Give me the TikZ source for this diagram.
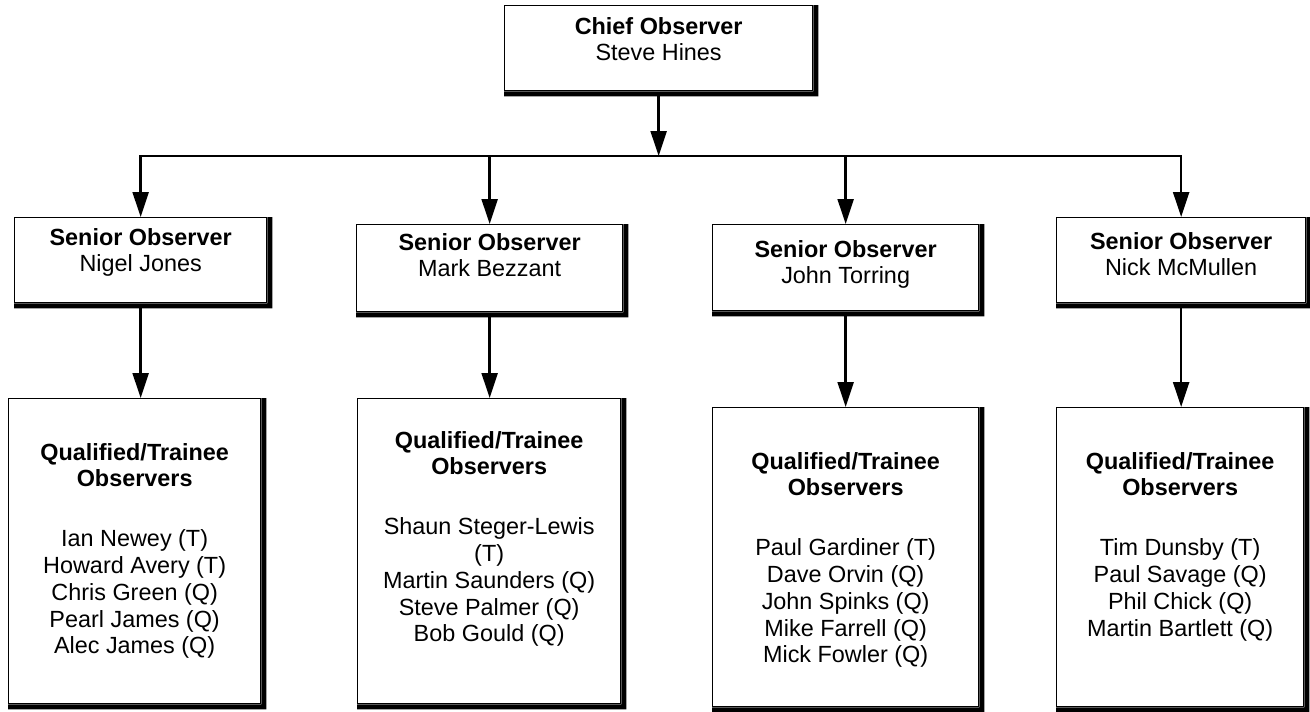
\documentclass[tikz,border=0pt]{standalone}
\usepackage{fontspec}
\setmainfont{Liberation Sans}
\usetikzlibrary{arrows.meta}
\begin{document}
\begin{tikzpicture}[x=1pt,y=-1pt,
  obox/.style={draw, line width=1.3pt, inner sep=0pt, anchor=north west, fill=white},
  txt/.style={inner sep=0pt, anchor=north, align=center, font=\fontsize{23.4}{26.8}\selectfont},
  tip/.style={Triangle[length=25pt,width=16pt]},
  arr/.style={line width=2.4pt, -{Triangle[length=25pt,width=16pt]}},
  conn/.style={line width=2.4pt, line join=miter}]
\useasboundingbox (0,0) rectangle (1310,712);
\newcommand{\shadowof}[1]{\fill (#1.north east) -- ++(5,0) -- ([xshift=5pt,yshift=-5pt]#1.south east) -- ([yshift=-5pt]#1.south west) -- (#1.south west) -- (#1.south east) -- cycle;}

% boxes
\node[obox, minimum width=308pt, minimum height=85pt] (top) at (504,5) {};
\node[obox, minimum width=252pt, minimum height=85pt] (s1) at (14,217) {};
\node[obox, minimum width=266pt, minimum height=87pt] (s2) at (356,224) {};
\node[obox, minimum width=266pt, minimum height=86pt] (s3) at (712,224) {};
\node[obox, minimum width=249pt, minimum height=85pt] (s4) at (1056,217) {};
\node[obox, minimum width=252pt, minimum height=305pt] (q1) at (8,398) {};
\node[obox, minimum width=263pt, minimum height=305pt] (q2) at (357,398) {};
\node[obox, minimum width=266pt, minimum height=299pt] (q3) at (712,407) {};
\node[obox, minimum width=247pt, minimum height=299pt] (q4) at (1056,407) {};
\foreach \b in {top,s1,s2,s3,s4,q1,q2,q3,q4} {\shadowof{\b}}

% texts
\node[txt] (ttop) at ([yshift=-12pt]top.north) {\textbf{Chief Observer}\\Steve Hines};
\node[txt] (ts1) at ([yshift=-11pt]s1.north) {\textbf{Senior Observer}\\Nigel Jones};
\node[txt] (ts2) at ([yshift=-9pt]s2.north) {\textbf{Senior Observer}\\Mark Bezzant};
\node[txt] (ts3) at ([yshift=-16pt]s3.north) {\textbf{Senior Observer}\\John Torring};
\node[txt] (ts4) at ([yshift=-15pt]s4.north) {\textbf{Senior Observer}\\Nick McMullen};
\node[txt] (tq1) at ([yshift=-45pt]q1.north) {\textbf{Qualified/Trainee}\\\textbf{Observers}\\[33pt]Ian Newey (T)\\Howard Avery (T)\\Chris Green (Q)\\Pearl James (Q)\\Alec James (Q)};
\node[txt] (tq2) at ([yshift=-33pt]q2.north) {\textbf{Qualified/Trainee}\\\textbf{Observers}\\[33pt]Shaun Steger-Lewis\\(T)\\Martin Saunders (Q)\\Steve Palmer (Q)\\Bob Gould (Q)};
\node[txt] (tq3) at ([yshift=-45pt]q3.north) {\textbf{Qualified/Trainee}\\\textbf{Observers}\\[33pt]Paul Gardiner (T)\\Dave Orvin (Q)\\John Spinks (Q)\\Mike Farrell (Q)\\Mick Fowler (Q)};
\node[txt] (tq4) at ([yshift=-45pt]q4.north) {\textbf{Qualified/Trainee}\\\textbf{Observers}\\[33pt]Tim Dunsby (T)\\Paul Savage (Q)\\Phil Chick (Q)\\Martin Bartlett (Q)};

% connectors
\coordinate (hl) at (0,156);
\draw[arr] ([yshift=-5pt]top.south) -- (top.south |- hl);
\draw[conn, {Triangle[length=25pt,width=16pt]}-{Triangle[length=25pt,width=16pt]}] (s1.north) -- (s1.north |- hl) -- (s4.north |- hl) -- (s4.north);
\draw[arr] (s2.north |- hl) -- (s2.north);
\draw[arr] (s3.north |- hl) -- (s3.north);
\foreach \i in {1,2,3,4} {\draw[arr] ([yshift=-5pt]s\i.south) -- (s\i.south |- q\i.north);}
\end{tikzpicture}
\end{document}
